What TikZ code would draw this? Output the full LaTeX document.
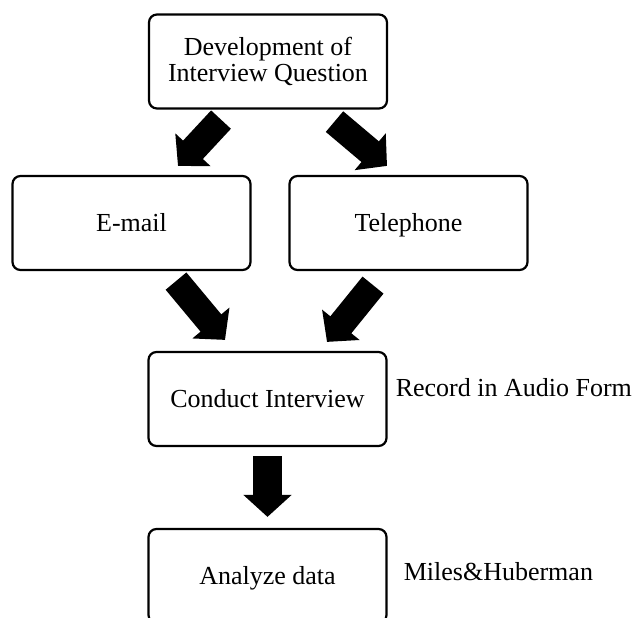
\documentclass[tikz,border=0pt]{standalone}
\usepackage{fontspec}
\setmainfont{Liberation Serif}
\usepackage{tikz}
\usetikzlibrary{
    arrows.meta,
    calc,
    positioning
}
\tikzset{
    stagebox/.style={draw, line width=2.2pt, rounded corners=8pt, align=center,
        minimum width=238pt, minimum height=94pt, inner sep=0pt,
        text height=17pt, text depth=0pt,
        font=\fontsize{26}{26}\selectfont},
    sidenote/.style={anchor=west, inner sep=0pt, font=\fontsize{26}{26}\selectfont},
    bigarrow/.style={line width=27pt, -{Triangle[length=22pt, width=47pt]}}
}

\begin{document}
\begin{tikzpicture}[x=1pt, y=-1pt]
                        \useasboundingbox (0, 0) rectangle (638, 618);

                        \node[stagebox, text height=, text depth=] (dev) at (268, 61.5) {Development of\\Interview Question};
                        \node[stagebox] (email) at (131.5, 223) {E-mail};
                        \node[stagebox] (tel) at (408.5, 223) {Telephone};
                        \node[stagebox] (conduct) at (267.5, 399) {Conduct Interview};
                        \node[stagebox] (analyze) at (267.5, 576) {Analyze data};

                        \node[sidenote] (audio) at ($(conduct.east)+(8, -11)$) {Record in Audio Form};
                        \node[sidenote] (miles) at ($(analyze.east)+(16, -4)$) {Miles\&Huberman};

                        \draw[bigarrow] ($(dev.south)+(-47, 10)$) -- ($(email.north)+(46.5, -9)$);
                        \draw[bigarrow] ($(dev.south)+(66.5, 12)$) -- ($(tel.north)+(-21.5, -9)$);
                        \draw[bigarrow] ($(email.south)+(44.5, 10)$) -- ($(conduct.north)+(-42.5, -11)$);
                        \draw[bigarrow] ($(tel.south)+(-35.5, 14)$) -- ($(conduct.north)+(59.5, -9)$);
                        \draw[bigarrow, line width=29pt] ($(conduct.south)+(0, 9)$) -- ($(analyze.north)+(0, -11)$);
                    \end{tikzpicture}
\end{document}
